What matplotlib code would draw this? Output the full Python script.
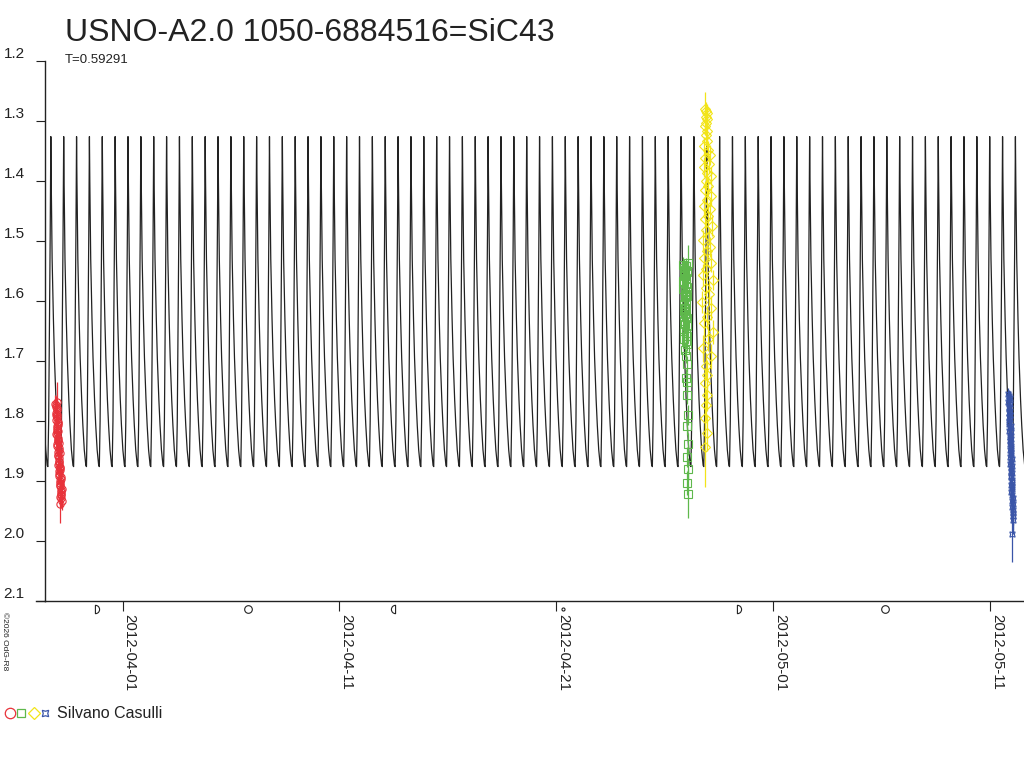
import numpy as np
import matplotlib
matplotlib.use("Agg")
import matplotlib.pyplot as plt
import matplotlib.dates as mdates
import matplotlib.transforms as mtransforms
from matplotlib.path import Path

plt.rcParams['font.family'] = ['Liberation Sans', 'DejaVu Sans']

# ---------------- data ----------------
TITLE = "USNO-A2.0 1050-6884516=SiC43"
PERIOD = 0.59291
PERIOD_LABEL = "T=0.59291"
OBSERVER = "Silvano Casulli"
CREDIT = "\u00a92026 OdG-R8"

T0 = "2012-04-01"            # times below are days after this date
EPOCH_MAX = 23.97            # a light maximum (days after T0)
X_RANGE = [-3.573, 41.56]    # plotted range (days after T0)

# one cycle of the model light curve (phase, magnitude)
template_phase = [0.00, 0.03, 0.10, 0.20, 0.28, 0.40, 0.49, 0.60, 0.72, 0.77,
                  0.83, 0.90, 0.95]
template_mag = [1.326, 1.40, 1.53, 1.63, 1.695, 1.765, 1.807, 1.848, 1.874, 1.876,
                1.80, 1.63, 1.49]

y_ticks = [1.2, 1.3, 1.4, 1.5, 1.6, 1.7, 1.8, 1.9, 2.0, 2.1]
x_tick_labels = ['2012-04-01', '2012-04-11', '2012-04-21', '2012-05-01', '2012-05-11']

moon_dates = ['2012-03-30 19:41', '2012-04-06 19:19', '2012-04-13 10:50',
              '2012-04-21 07:18', '2012-04-29 09:57', '2012-05-06 03:35']
moon_kinds = ['first', 'full', 'last', 'new', 'first', 'full']

red_t = [-3.095, -3.020, -3.030, -3.085, -3.045, -3.010, -3.070, -3.035, -3.000, -3.055,
         -3.020, -2.985, -3.065, -3.025, -2.990, -3.040, -3.005, -2.970, -3.050, -3.015,
         -2.975, -3.030, -2.995, -2.955, -3.020, -2.980, -2.940, -3.000, -2.965, -2.925,
         -2.985, -2.950, -2.910, -2.970, -2.935, -2.895, -2.955, -2.920, -2.880, -2.940,
         -2.905, -2.865, -2.925, -2.890, -2.850, -2.910, -2.875, -2.835, -2.895, -2.860,
         -2.820, -2.880, -2.845, -2.805, -2.870, -2.830, -2.795, -2.850, -2.815, -2.880]
red_m = [1.771, 1.768, 1.779, 1.774, 1.786, 1.781, 1.777, 1.792, 1.788, 1.798,
         1.795, 1.803, 1.790, 1.809, 1.801, 1.815, 1.812, 1.806, 1.822, 1.818,
         1.828, 1.824, 1.834, 1.816, 1.839, 1.831, 1.845, 1.842, 1.851, 1.837,
         1.856, 1.849, 1.862, 1.858, 1.868, 1.853, 1.873, 1.866, 1.879, 1.871,
         1.884, 1.877, 1.891, 1.882, 1.897, 1.889, 1.903, 1.894, 1.909, 1.900,
         1.915, 1.906, 1.921, 1.913, 1.927, 1.918, 1.933, 1.924, 1.929, 1.938]
red_e = [0.015, 0.033, 0.014, 0.016, 0.015, 0.013, 0.016, 0.015, 0.014, 0.016,
         0.015, 0.014, 0.016, 0.015, 0.013, 0.015, 0.016, 0.014, 0.015, 0.016,
         0.014, 0.015, 0.016, 0.014, 0.015, 0.016, 0.015, 0.014, 0.016, 0.015,
         0.014, 0.016, 0.015, 0.014, 0.016, 0.015, 0.014, 0.016, 0.015, 0.014,
         0.016, 0.015, 0.014, 0.016, 0.015, 0.014, 0.016, 0.015, 0.014, 0.016,
         0.015, 0.014, 0.016, 0.015, 0.014, 0.016, 0.015, 0.014, 0.016, 0.032]

green_t = [26.060, 25.850, 25.905, 25.960, 26.010, 25.870, 25.930, 25.985, 25.845, 25.915,
           25.970, 26.020, 25.880, 25.940, 25.995, 25.860, 25.920, 25.975, 26.030, 25.890,
           25.950, 26.000, 25.865, 25.925, 25.980, 26.035, 25.895, 25.955, 26.005, 25.875,
           25.935, 25.990, 26.040, 25.900, 25.960, 26.015, 25.885, 25.945, 26.000, 26.045,
           25.990, 26.030, 26.005, 26.050, 26.020, 26.065, 26.035, 26.075, 26.045, 26.058]
green_m = [1.536, 1.540, 1.545, 1.542, 1.551, 1.556, 1.549, 1.561, 1.566, 1.558,
           1.572, 1.577, 1.569, 1.583, 1.588, 1.580, 1.594, 1.599, 1.591, 1.605,
           1.611, 1.603, 1.617, 1.622, 1.614, 1.628, 1.634, 1.626, 1.641, 1.646,
           1.638, 1.653, 1.659, 1.650, 1.666, 1.672, 1.663, 1.681, 1.692, 1.705,
           1.728, 1.735, 1.757, 1.790, 1.808, 1.838, 1.860, 1.880, 1.903, 1.921]
green_e = [0.029, 0.013, 0.012, 0.014, 0.013, 0.012, 0.014, 0.013, 0.012, 0.014,
           0.013, 0.012, 0.014, 0.013, 0.012, 0.014, 0.013, 0.012, 0.014, 0.013,
           0.012, 0.014, 0.013, 0.012, 0.014, 0.013, 0.012, 0.014, 0.013, 0.012,
           0.014, 0.013, 0.012, 0.014, 0.013, 0.012, 0.014, 0.013, 0.012, 0.014,
           0.015, 0.016, 0.015, 0.017, 0.016, 0.018, 0.017, 0.019, 0.020, 0.041]

yellow_t = [26.862, 26.900, 26.935, 26.880, 26.960, 26.915, 26.870, 26.945, 26.895, 26.925,
            26.820, 26.980, 27.100, 26.860, 27.040, 26.790, 26.950, 27.150, 26.890, 27.010,
            26.840, 27.120, 26.930, 26.800, 27.070, 26.985, 26.850, 27.170, 26.910, 27.030,
            26.780, 27.090, 26.960, 26.830, 27.140, 26.905,
            26.760, 27.200, 26.880, 27.060, 26.720, 27.150, 26.940, 26.810, 27.220, 26.990,
            26.740, 27.110,
            26.880, 26.930, 26.840, 26.960, 26.900, 26.870, 26.950, 26.862]
yellow_m = [1.280, 1.284, 1.287, 1.293, 1.297, 1.304, 1.309, 1.317, 1.324, 1.333,
            1.342, 1.348, 1.357, 1.362, 1.371, 1.377, 1.386, 1.391, 1.400, 1.409,
            1.415, 1.425, 1.431, 1.441, 1.447, 1.458, 1.464, 1.475, 1.481, 1.492,
            1.499, 1.510, 1.517, 1.528, 1.536, 1.547,
            1.557, 1.565, 1.579, 1.588, 1.602, 1.612, 1.627, 1.637, 1.652, 1.663,
            1.679, 1.692,
            1.709, 1.723, 1.737, 1.757, 1.773, 1.795, 1.820, 1.843]
yellow_e = [0.028, 0.015, 0.016, 0.015, 0.017, 0.016, 0.015, 0.017, 0.016, 0.015,
            0.016, 0.015, 0.017, 0.016, 0.015, 0.017, 0.016, 0.015, 0.017, 0.016,
            0.015, 0.017, 0.016, 0.015, 0.017, 0.016, 0.015, 0.017, 0.016, 0.015,
            0.017, 0.016, 0.015, 0.017, 0.016, 0.015,
            0.018, 0.017, 0.018, 0.019, 0.018, 0.020, 0.019, 0.021, 0.020, 0.021,
            0.022, 0.021,
            0.022, 0.024, 0.025, 0.026, 0.027, 0.028, 0.030, 0.067]

blue_t = [40.840, 40.860, 40.900, 40.875, 40.845, 40.915, 40.885, 40.855, 40.925, 40.870,
          40.905, 40.850, 40.935, 40.890, 40.865, 40.945, 40.910, 40.880, 40.950, 40.920,
          40.895, 40.960, 40.930, 40.905, 40.970, 40.940, 40.915, 40.980, 40.950, 40.925,
          40.990, 40.960, 40.935, 41.000, 40.970, 40.945, 41.005, 40.980, 40.955, 41.010,
          40.990, 40.965, 41.015, 41.000, 40.975,
          41.020, 41.035, 41.010, 41.045, 41.025, 41.050, 41.030, 41.040, 41.055,
          41.020]
blue_m = [1.755, 1.758, 1.761, 1.765, 1.768, 1.772, 1.776, 1.779, 1.783, 1.786,
          1.790, 1.794, 1.797, 1.801, 1.805, 1.808, 1.812, 1.816, 1.819, 1.823,
          1.827, 1.830, 1.834, 1.838, 1.842, 1.845, 1.849, 1.853, 1.857, 1.860,
          1.864, 1.868, 1.872, 1.875, 1.879, 1.883, 1.887, 1.891, 1.894, 1.898,
          1.902, 1.906, 1.910, 1.914, 1.918,
          1.923, 1.928, 1.933, 1.938, 1.943, 1.948, 1.953, 1.959, 1.965,
          1.988]
blue_e = [0.010, 0.010, 0.011, 0.010, 0.011, 0.010, 0.011, 0.010, 0.011, 0.010,
          0.011, 0.012, 0.011, 0.012, 0.011, 0.012, 0.011, 0.012, 0.013, 0.012,
          0.013, 0.012, 0.013, 0.012, 0.013, 0.014, 0.013, 0.014, 0.013, 0.014,
          0.015, 0.014, 0.015, 0.016, 0.015, 0.016, 0.017, 0.016, 0.017, 0.016,
          0.017, 0.018, 0.017, 0.018, 0.019,
          0.019, 0.020, 0.019, 0.021, 0.020, 0.022, 0.021, 0.023, 0.024,
          0.047]

# ---------------- styles ----------------
INK = '#222222'
RED, GREEN, YELLOW, BLUE = '#e8323a', '#5fb84c', '#f2e41a', '#3a55a8'
W, H = 1024, 768

fig = plt.figure(figsize=(W / 100, H / 100), dpi=100)
ax = fig.add_axes([45 / W, 1 - 601 / H, 979 / W, 540 / H])

base = mdates.datestr2num(T0)
def tnum(days):
    return base + np.asarray(days, dtype=float)

# model curve: repeat the one-cycle template with the period
k0 = int(np.floor((X_RANGE[0] - EPOCH_MAX) / PERIOD)) - 1
k1 = int(np.ceil((X_RANGE[1] - EPOCH_MAX) / PERIOD)) + 1
ph = np.asarray(template_phase)
t_curve = np.concatenate([EPOCH_MAX + (k + ph) * PERIOD for k in range(k0, k1 + 1)])
m_curve = np.tile(template_mag, k1 - k0 + 1)
ax.plot(tnum(t_curve), m_curve, color=INK, lw=0.9, zorder=2)

star4 = (4, 1, 45)
series = [
    (red_t, red_m, red_e, RED, 'o', 5.2),
    (green_t, green_m, green_e, GREEN, 's', 5.4),
    (yellow_t, yellow_m, yellow_e, YELLOW, 'D', 5.6),
    (blue_t, blue_m, blue_e, BLUE, star4, 5.4),
]
for t, m, e, c, mk, ms in series:
    ax.errorbar(tnum(t), m, yerr=e, fmt='none', ecolor=c, elinewidth=0.9, zorder=3)
    ax.plot(tnum(t), m, linestyle='none', marker=mk, markersize=ms,
            markerfacecolor='none', markeredgecolor=c, markeredgewidth=0.8, zorder=4)

ax.set_xlim(tnum(X_RANGE[0]), tnum(X_RANGE[1]))
ax.set_ylim(2.1, 1.2)

for s in ['top', 'right']:
    ax.spines[s].set_visible(False)
for s in ['left', 'bottom']:
    ax.spines[s].set_color(INK)
    ax.spines[s].set_linewidth(1.0)
# bottom axis line runs a little past the left axis
ax.plot([-9 / 979, 0], [0, 0], transform=ax.transAxes, clip_on=False, color=INK, lw=1.0)

ax.set_yticks(y_ticks)
ax.set_yticklabels([f"{v:.1f}" for v in y_ticks])
ax.tick_params(axis='y', direction='out', length=6.5, width=0.8, pad=8,
               labelsize=11, colors=INK)
for lab in ax.get_yticklabels():
    lab.set_va('bottom')

ax.set_xticks(mdates.datestr2num(x_tick_labels))
ax.set_xticklabels(x_tick_labels)
ax.tick_params(axis='x', direction='out', length=7.5, width=0.8, pad=1.5,
               labelsize=10.8, colors=INK, labelrotation=270)
for lab in ax.get_xticklabels():
    lab.set_ha('left')
    lab.set_va('top')

# moon phase symbols
def half_disk(mirror=False):
    arc = Path.arc(-90, 90)
    v = arc.vertices.copy()
    v[:, 0] -= 0.5
    if mirror:
        v[:, 0] = -v[:, 0]
    verts = np.vstack([v, v[:1]])
    codes = list(arc.codes) + [Path.CLOSEPOLY]
    return Path(verts, codes)

trans = mtransforms.blended_transform_factory(ax.transData, ax.transAxes)
moon_style = {
    'first': (half_disk(False), 6.0),
    'last': (half_disk(True), 6.0),
    'full': ('o', 5.5),
    'new': ('o', 2.2),
}
for d, kind in zip(moon_dates, moon_kinds):
    mk, ms = moon_style[kind]
    ax.plot([mdates.datestr2num(d)], [-0.0148], transform=trans, clip_on=False,
            marker=mk, markersize=ms, markerfacecolor='none', markeredgecolor=INK,
            markeredgewidth=0.8, linestyle='none')

# texts
fig.text(65 / W, 1 - 41 / H, TITLE, fontsize=23, color=INK, ha='left', va='baseline')
fig.text(65 / W, 1 - 63 / H, PERIOD_LABEL, fontsize=9.5, color=INK, ha='left', va='baseline')
fig.text(1 / W, 1 - 612 / H, CREDIT, fontsize=6, color=INK, rotation=270,
         ha='left', va='top')

# legend row
leg_y = 1 - 713 / H
leg_items = [(10, RED, 'o', 7.5), (21, GREEN, 's', 6.0), (33.5, YELLOW, 'D', 6.0),
             (45, BLUE, star4, 6.5)]
for x, c, mk, ms in leg_items:
    fig.add_artist(plt.Line2D([x / W], [leg_y], transform=fig.transFigure,
                              marker=mk, markersize=ms, markerfacecolor='none',
                              markeredgecolor=c, markeredgewidth=0.9, linestyle='none'))
fig.text(57 / W, leg_y, OBSERVER, fontsize=11.5, color=INK, ha='left', va='center')

fig.savefig('out.png', dpi=100)
